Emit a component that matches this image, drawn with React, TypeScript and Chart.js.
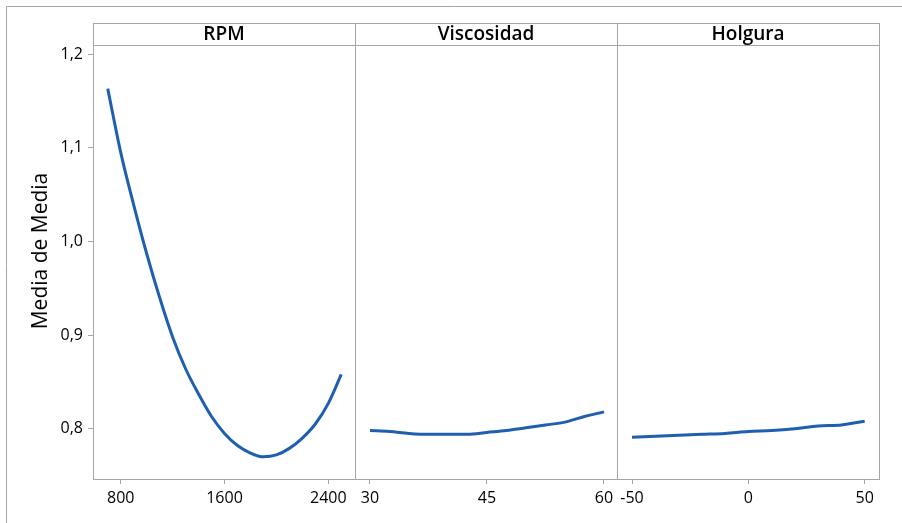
import { useEffect, useRef } from "react";
import { Chart, registerables } from "chart.js";

Chart.register(...registerables);

const PANEL_TITLES = ["RPM", "Viscosidad", "Holgura"];
const Y_TITLE = "Media de Media";

const RPM_X = [700, 800, 900, 1000, 1100, 1200, 1300, 1400, 1500, 1600, 1700, 1800, 1900, 2000, 2100, 2200, 2300, 2400, 2500];
const RPM_Y = [1.163, 1.095, 1.039, 0.987, 0.940, 0.898, 0.864, 0.837, 0.813, 0.795, 0.782, 0.774, 0.770, 0.772, 0.779, 0.790, 0.805, 0.827, 0.858];

const VISC_X = [30, 32.5, 35, 37.5, 40, 42.5, 45, 47.5, 50, 52.5, 55, 57.5, 60];
const VISC_Y = [0.798, 0.797, 0.795, 0.794, 0.794, 0.794, 0.796, 0.798, 0.801, 0.804, 0.807, 0.813, 0.818];

const HOLG_X = [-50, -40, -30, -20, -10, 0, 10, 20, 30, 40, 50];
const HOLG_Y = [0.791, 0.792, 0.793, 0.794, 0.795, 0.797, 0.798, 0.800, 0.803, 0.804, 0.808];

const Y_TICKS = [0.8, 0.9, 1.0, 1.1, 1.2];
const RPM_TICKS = [800, 1600, 2400];
const VISC_TICKS = [30, 45, 60];
const HOLG_TICKS = [-50, 0, 50];

const GRAY = "#a6a6a6";
const LINE = "#1f5faf";
const FONT = "'Open Sans', 'Noto Sans', sans-serif";

const toPts = (xs: number[], ys: number[]) => xs.map((x, i) => ({ x, y: ys[i] }));

const framePlugin = {
  id: "frame",
  afterDraw(chart: any) {
    const ctx = chart.ctx;
    const { top, bottom } = chart.chartArea;
    const ids = ["x1", "x2", "x3"];
    ctx.save();
    ctx.strokeStyle = GRAY;
    ctx.lineWidth = 1;
    ctx.beginPath();
    ctx.moveTo(6.5, chart.height);
    ctx.lineTo(6.5, 6.5);
    ctx.lineTo(chart.width, 6.5);
    ctx.stroke();

    const left = chart.scales.x1.left;
    const right = chart.scales.x3.right;
    ctx.beginPath();
    ctx.moveTo(left, Math.floor(top) + 0.5);
    ctx.lineTo(right, Math.floor(top) + 0.5);
    ctx.moveTo(left, Math.floor(top) + 22.5);
    ctx.lineTo(right, Math.floor(top) + 22.5);
    ids.forEach((id) => {
      const x = Math.floor(chart.scales[id].right) + 0.5;
      ctx.moveTo(x, top);
      ctx.lineTo(x, bottom + 1);
    });
    ctx.stroke();

    ctx.fillStyle = "#000";
    ctx.font = `600 19px ${FONT}`;
    ctx.textAlign = "center";
    ctx.textBaseline = "alphabetic";
    ids.forEach((id, i) => {
      const s = chart.scales[id];
      ctx.fillText(PANEL_TITLES[i], (s.left + s.right) / 2, top + 17);
    });
    ctx.restore();
  },
};

function xScale(min: number, max: number, ticks: number[]) {
  return {
    type: "linear",
    position: "bottom",
    stack: "panels",
    stackWeight: 1,
    min,
    max,
    afterBuildTicks: (s: any) => {
      s.ticks = ticks.map((v) => ({ value: v }));
    },
    afterFit: (s: any) => {
      s.height = 44;
    },
    border: { display: true, color: GRAY, width: 1 },
    grid: { drawOnChartArea: false, drawTicks: true, tickLength: 5, color: GRAY },
    ticks: {
      color: "#000",
      padding: 5,
      maxRotation: 0,
      autoSkip: false,
      font: { family: FONT, size: 16, weight: "500" },
      callback: (v: any) => String(v),
    },
  };
}

export default function App() {
  const ref = useRef<HTMLCanvasElement | null>(null);

  useEffect(() => {
    document.body.style.margin = "0";
    const canvas = ref.current;
    if (!canvas) return;
    const ds = (id: string, xs: number[], ys: number[]) => ({
      data: toPts(xs, ys),
      xAxisID: id,
      yAxisID: "y",
      showLine: true,
      borderColor: LINE,
      backgroundColor: LINE,
      borderWidth: 3,
      pointRadius: 0,
      cubicInterpolationMode: "monotone",
      fill: false,
    });
    const chart = new Chart(canvas, {
      type: "scatter",
      data: {
        datasets: [
          ds("x1", RPM_X, RPM_Y),
          ds("x2", VISC_X, VISC_Y),
          ds("x3", HOLG_X, HOLG_Y),
        ] as any,
      },
      options: {
        animation: false,
        responsive: false,
        devicePixelRatio: 1,
        layout: { padding: { top: 23, right: 23, bottom: 0, left: 0 } },
        plugins: { legend: { display: false }, tooltip: { enabled: false } },
        scales: {
          x1: xScale(586.5, 2605.8, RPM_TICKS),
          x2: xScale(28.08, 61.67, VISC_TICKS),
          x3: xScale(-56.45, 56.15, HOLG_TICKS),
          y: {
            type: "linear",
            position: "left",
            min: 0.7463,
            max: 1.2331,
            afterBuildTicks: (s: any) => {
              s.ticks = Y_TICKS.map((v) => ({ value: v }));
            },
            afterFit: (s: any) => {
              s.width = 93;
            },
            border: { display: true, color: GRAY, width: 1 },
            grid: { drawOnChartArea: false, drawTicks: true, tickLength: 5, color: GRAY },
            ticks: {
              color: "#000",
              padding: 5,
              font: { family: FONT, size: 16, weight: "500" },
              callback: (v: any) => Number(v).toFixed(1).replace(".", ","),
            },
            title: {
              display: true,
              text: Y_TITLE,
              color: "#000",
              font: { family: FONT, size: 21, weight: "500" },
              padding: { top: 28, bottom: 0 },
            },
          },
        } as any,
      },
      plugins: [framePlugin],
    });
    return () => chart.destroy();
  }, []);

  return (
    <div style={{ width: 902, height: 523, background: "#fff" }}>
      <canvas ref={ref} width={902} height={523} style={{ display: "block" }} />
    </div>
  );
}
